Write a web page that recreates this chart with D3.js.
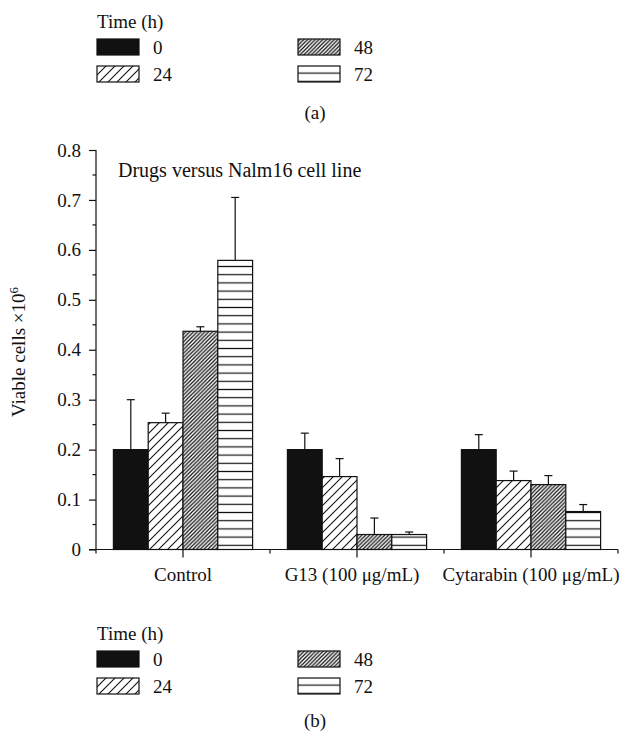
<!DOCTYPE html>
<html>
<head>
<meta charset="utf-8">
<script src="https://cdn.jsdelivr.net/npm/d3@7"></script>
<style>
  body { margin: 0; background: #fff; }
  svg text { font-family: "Liberation Serif", "DejaVu Serif", serif; fill: #111; }
</style>
</head>
<body>
<svg id="mainSVG" width="641" height="736"></svg>
<script>
// data
const groups = ["Control", "G13 (100 \u03bcg/mL)", "Cytarabin (100 \u03bcg/mL)"]
const times = ["0", "24", "48", "72"]
const means = [
    [0.200, 0.254, 0.437, 0.579],
    [0.200, 0.146, 0.030, 0.030],
    [0.200, 0.138, 0.130, 0.076]
]
const errors = [
    [0.100, 0.019, 0.009, 0.126],
    [0.033, 0.036, 0.033, 0.005],
    [0.030, 0.019, 0.018, 0.014]
]
const yTicks = [0, 0.1, 0.2, 0.3, 0.4, 0.5, 0.6, 0.7, 0.8]

const FONT = "Liberation Serif"
const FS = 19

const svg = d3.select("#mainSVG").attr("font-family", FONT)
const defs = svg.append("defs")

// fill patterns, one per time point
function hatch(id, period, horizontal, sw) {
    const p = defs.append("pattern")
        .attr("id", id)
        .attr("patternUnits", "userSpaceOnUse")
        .attr("width", period)
        .attr("height", period)
    p.append("rect").attr("width", period).attr("height", period).attr("fill", "#fff")
    if (horizontal) {
        p.append("line").attr("x1", 0).attr("x2", period).attr("y1", period / 2).attr("y2", period / 2)
            .attr("stroke", "#111").attr("stroke-width", sw)
    } else {
        p.append("path")
            .attr("d", `M0,${period} L${period},0 M${-period / 2},${period / 2} L${period / 2},${-period / 2} M${period / 2},${period * 1.5} L${period * 1.5},${period / 2}`)
            .attr("stroke", "#111").attr("stroke-width", sw)
    }
}
hatch("p24", 9, false, 1.1)
hatch("p48", 3.8, false, 1.2)
hatch("p72", 8.2, true, 1.2)
const fills = ["#111", "url(#p24)", "url(#p48)", "url(#p72)"]

const y = d3.scaleLinear().domain([0, 0.8]).range([549.5, 150])
const x0 = d3.scaleBand().domain(groups).range([96, 618])
const x1 = d3.scaleBand().domain(times).range([0, x0.bandwidth()]).paddingOuter(0.5)

const chart = svg.append("g")

// bars
const gGroups = chart.selectAll(".grp")
    .data(groups)
    .join("g")
    .attr("class", "grp")
    .attr("transform", d => `translate(${x0(d)},0)`)

gGroups.selectAll("rect")
    .data((d, i) => times.map((t, j) => ({t: t, v: means[i][j], e: errors[i][j], j: j})))
    .join("rect")
    .attr("x", d => x1(d.t))
    .attr("y", d => y(d.v))
    .attr("width", x1.bandwidth())
    .attr("height", d => y(0) - y(d.v))
    .attr("fill", d => fills[d.j])
    .attr("stroke", "#111")
    .attr("stroke-width", 1.2)

// error bars (upper only)
const eb = gGroups.selectAll(".err")
    .data((d, i) => times.map((t, j) => ({t: t, v: means[i][j], e: errors[i][j]})))
    .join("g")
    .attr("class", "err")
    .attr("stroke", "#111")
    .attr("stroke-width", 1.2)
eb.append("line")
    .attr("x1", d => x1(d.t) + x1.bandwidth() / 2)
    .attr("x2", d => x1(d.t) + x1.bandwidth() / 2)
    .attr("y1", d => y(d.v))
    .attr("y2", d => y(d.v + d.e))
eb.append("line")
    .attr("x1", d => x1(d.t) + x1.bandwidth() / 2 - 4)
    .attr("x2", d => x1(d.t) + x1.bandwidth() / 2 + 4)
    .attr("y1", d => y(d.v + d.e))
    .attr("y2", d => y(d.v + d.e))

// y axis
const yAxis = chart.append("g").attr("transform", "translate(96,0)")
yAxis.call(d3.axisLeft(y).tickValues(yTicks).tickSize(7).tickPadding(8).tickFormat(d => d === 0 ? "0" : d3.format(".1f")(d)))
yAxis.attr("font-family", FONT).attr("font-size", FS)
yAxis.select(".domain").attr("d", `M0,${y(0.8)}V${y(0)}`).attr("stroke", "#111").attr("stroke-width", 1.2)
yAxis.selectAll(".tick line").attr("stroke", "#111").attr("stroke-width", 1.2)
yAxis.selectAll(".tick text").attr("fill", "#111")
yAxis.selectAll(".minor")
    .data(d3.range(0.05, 0.8, 0.1))
    .join("line")
    .attr("class", "minor")
    .attr("x1", -3.5).attr("x2", 0)
    .attr("y1", d => y(d)).attr("y2", d => y(d))
    .attr("stroke", "#111").attr("stroke-width", 1.2)

// x axis: long ticks at group centres, short ticks at group edges
const xAxis = chart.append("g")
xAxis.append("line")
    .attr("x1", 89).attr("x2", 618)
    .attr("y1", y(0)).attr("y2", y(0))
    .attr("stroke", "#111").attr("stroke-width", 1.2)
const edges = groups.map(g => x0(g)).concat([x0.range()[1]])
xAxis.selectAll(".edge")
    .data(edges)
    .join("line")
    .attr("x1", d => d).attr("x2", d => d)
    .attr("y1", y(0)).attr("y2", y(0) + 4)
    .attr("stroke", "#111").attr("stroke-width", 1.2)
xAxis.selectAll(".mid")
    .data(groups)
    .join("line")
    .attr("x1", d => x0(d) + x0.bandwidth() / 2).attr("x2", d => x0(d) + x0.bandwidth() / 2)
    .attr("y1", y(0)).attr("y2", y(0) + 8)
    .attr("stroke", "#111").attr("stroke-width", 1.2)
xAxis.selectAll(".cat")
    .data(groups)
    .join("text")
    .attr("x", (d, i) => x0(d) + x0.bandwidth() / 2 - (i === 1 ? 5 : 0))
    .attr("y", 581)
    .attr("text-anchor", "middle")
    .attr("font-size", FS)
    .text(d => d)

// y label
const yl = svg.append("text")
    .attr("transform", "translate(25,352) rotate(-90)")
    .attr("text-anchor", "middle")
    .attr("font-size", FS)
yl.append("tspan").text("Viable cells \u00d710")
yl.append("tspan").attr("dy", -7).attr("font-size", 13).text("6")

// title inside plot
svg.append("text")
    .attr("x", 118).attr("y", 177)
    .attr("font-size", 20)
    .text("Drugs versus Nalm16 cell line")

// legends (a) and (b)
function legend(top, tag, tagY) {
    const g = svg.append("g").attr("transform", `translate(0,${top})`)
    g.append("text").attr("x", 97).attr("y", 0).attr("font-size", FS).text("Time (h)")
    const pos = [[97, 11], [97, 38], [298, 11], [298, 38]]
    times.forEach((t, j) => {
        g.append("rect")
            .attr("x", pos[j][0]).attr("y", pos[j][1])
            .attr("width", 42).attr("height", 16)
            .attr("fill", fills[j]).attr("stroke", "#111").attr("stroke-width", 1.2)
        g.append("text")
            .attr("x", pos[j][0] + 56).attr("y", pos[j][1] + 15)
            .attr("font-size", FS)
            .text(t)
    })
    g.append("text").attr("x", 315).attr("y", tagY).attr("text-anchor", "middle").attr("font-size", FS).text(tag)
}
legend(28, "(a)", 91)
legend(640, "(b)", 87)
</script>
</body>
</html>
